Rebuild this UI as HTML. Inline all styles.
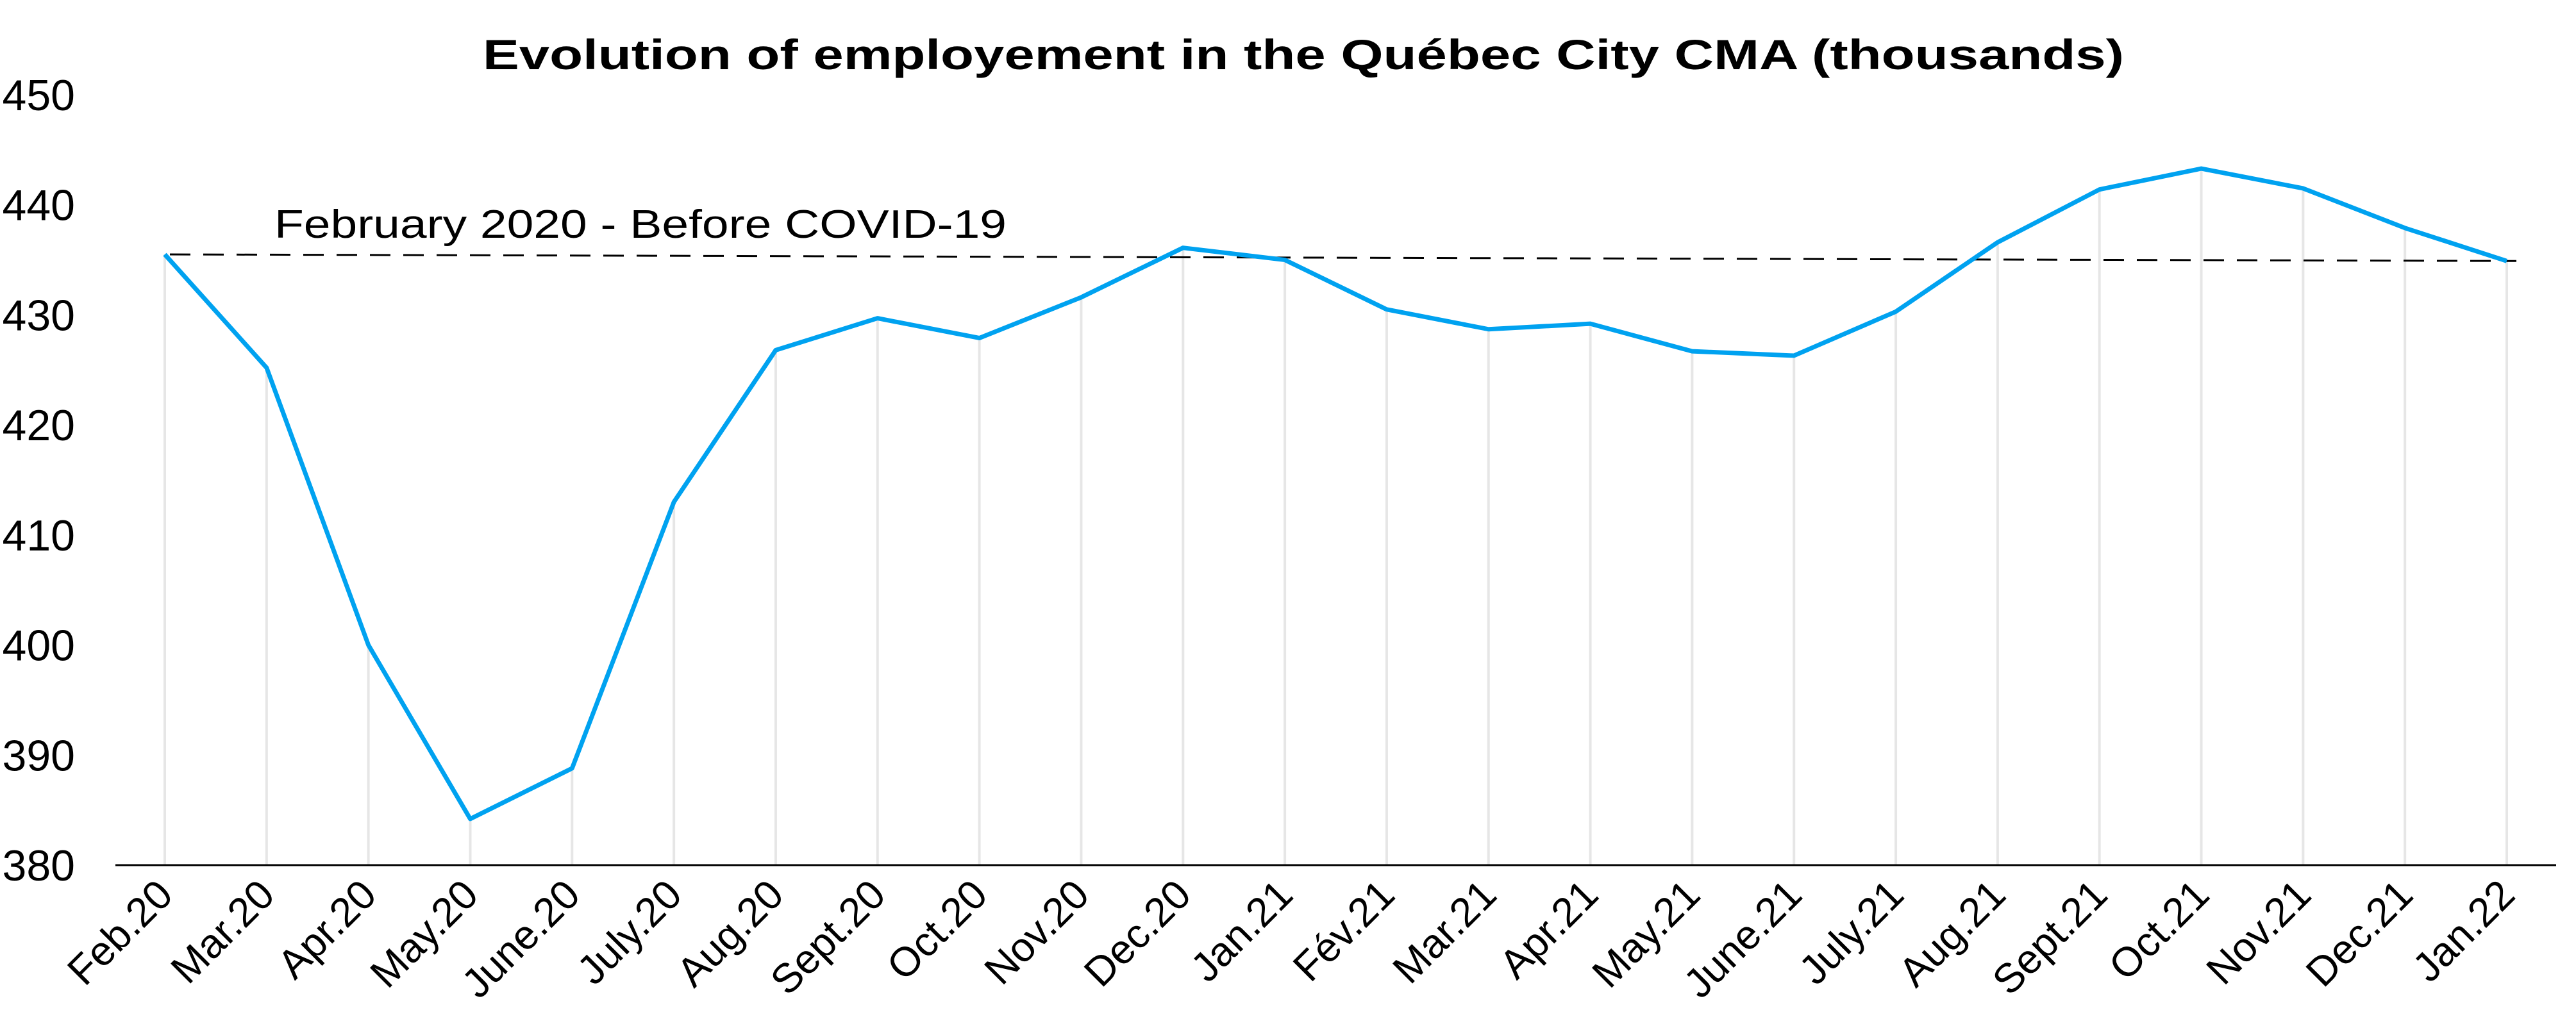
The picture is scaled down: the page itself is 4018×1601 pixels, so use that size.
<!DOCTYPE html>
<html><head><meta charset="utf-8"><style>html,body{margin:0;padding:0;background:#fff}svg{display:block}</style></head>
<body>
<svg id="chart" width="4018" height="1601" viewBox="0 0 4018 1601" xmlns="http://www.w3.org/2000/svg" font-family="Liberation Sans, Arial, sans-serif">
<text x="2033" y="108" text-anchor="middle" font-size="66" font-weight="bold" textLength="2560" lengthAdjust="spacingAndGlyphs">Evolution of employement in the Québec City CMA (thousands)</text>
<g id="grid"></g><g id="yaxis"></g><g id="xaxis"></g><g id="series"></g>
</svg>
<script>
const categories = ["Feb.20","Mar.20","Apr.20","May.20","June.20","July.20","Aug.20","Sept.20","Oct.20","Nov.20","Dec.20","Jan.21","Fév.21","Mar.21","Apr.21","May.21","June.21","July.21","Aug.21","Sept.21","Oct.21","Nov.21","Dec.21","Jan.22"];
const employment = [435.5,425.2,400,384.2,388.8,413,426.8,429.7,427.9,431.6,436.1,435,430.5,428.7,429.2,426.7,426.3,430.3,436.6,441.4,443.3,441.5,437.9,434.9];
const yTicks = [380,390,400,410,420,430,440,450];
const baselineStart = 435.5;
const baselineEnd = 434.9;
const baselineLabel = "February 2020 - Before COVID-19";

const NS="http://www.w3.org/2000/svg";
const yMin=380,yMax=450,yBottom=1350,yTop=148;
const x0=257,x1=3910;
function y(v){return yBottom-(v-yMin)/(yMax-yMin)*(yBottom-yTop);}
function x(i){return x0+i*(x1-x0)/(categories.length-1);}
function mk(tag,attrs,parent){const e=document.createElementNS(NS,tag);for(const k in attrs)e.setAttribute(k,attrs[k]);parent.appendChild(e);return e;}
const grid=document.getElementById('grid'),ya=document.getElementById('yaxis'),xa=document.getElementById('xaxis'),se=document.getElementById('series');

categories.forEach((c,i)=>{
  const l=mk('line',{x1:x(i),x2:x(i),y1:y(employment[i]),y2:yBottom,stroke:'#e6e6e6','stroke-width':4},grid);
  
  
  const t=mk('text',{x:0,y:0,'font-size':64,'text-anchor':'end',transform:`translate(${x(i)+16},${yBottom+50}) rotate(-45)`},xa);
  t.textContent=c;
  
  
});
yTicks.forEach(v=>{
  const t=mk('text',{x:117,y:y(v)+24,'font-size':68,'text-anchor':'end'},ya);
  t.textContent=v;
  
  
});
const ax=mk('line',{x1:180,x2:3987,y1:yBottom,y2:yBottom,stroke:'#000','stroke-width':3},xa);



const dash=mk('line',{x1:x(0)+8,x2:x(categories.length-1)+15,y1:y(baselineStart),y2:y(baselineEnd),stroke:'#000','stroke-width':3,'stroke-dasharray':'32 20'},se);


const lbl=mk('text',{x:428,y:371,'font-size':62,textLength:1142,lengthAdjust:'spacingAndGlyphs'},se);
lbl.textContent=baselineLabel;



const pts=employment.map((v,i)=>x(i)+','+y(v)).join(' ');
const pl=mk('polyline',{points:pts,fill:'none',stroke:'#00a2f0','stroke-width':7,'stroke-linejoin':'round'},se);


</script>
</body></html>
